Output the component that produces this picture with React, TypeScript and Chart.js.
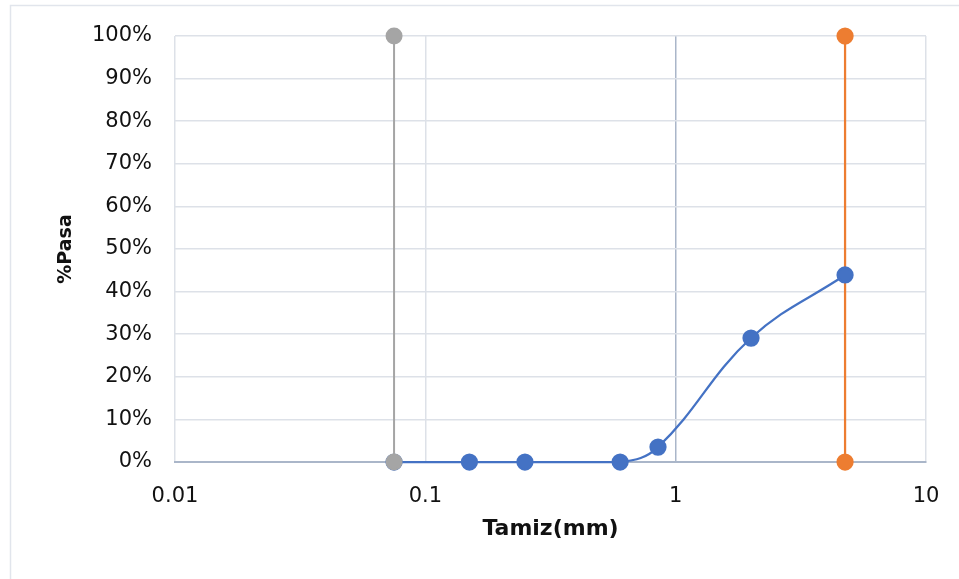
import React, { useEffect, useRef } from "react";
import { Chart, registerables } from "chart.js";

Chart.register(...registerables);

// Data
const sieveSizes = [0.075, 0.15, 0.25, 0.6, 0.85, 2, 4.75];
const percentPassing = [0, 0, 0, 0, 3.5, 29.1, 43.9];
const grayX = [0.075, 0.075];
const grayY = [0, 100];
const orangeX = [4.75, 4.75];
const orangeY = [0, 100];
const xTicks = [0.01, 0.1, 1, 10];
const xTickLabels = ["0.01", "0.1", "1", "10"];
const xTitle = "Tamiz(mm)";
const yTitle = "%Pasa";

const toPoints = (xs: number[], ys: number[]) => xs.map((x, i) => ({ x, y: ys[i] }));

const FONT = "'DejaVu Sans', sans-serif";

const frame = {
  id: "frame",
  beforeDraw(chart: any) {
    const { ctx, width, height } = chart;
    ctx.save();
    ctx.fillStyle = "#ffffff";
    ctx.fillRect(0, 0, width, height);
    ctx.strokeStyle = "#e1e5ec";
    ctx.lineWidth = 1.5;
    ctx.strokeRect(10.5, 5.5, width + 10, height + 10);
    ctx.restore();
  },
};

export default function App() {
  const ref = useRef<HTMLCanvasElement>(null);
  useEffect(() => {
    if (!ref.current) return;
    const chart = new Chart(ref.current, {
      type: "scatter",
      data: {
        datasets: [
          {
            data: toPoints(grayX, grayY),
            showLine: true,
            borderColor: "#A5A5A5",
            backgroundColor: "#A5A5A5",
            borderWidth: 2,
            pointRadius: 7.5,
            pointHoverRadius: 7.5,
            clip: false,
          },
          {
            data: toPoints(sieveSizes, percentPassing),
            showLine: true,
            borderColor: "#4472C4",
            backgroundColor: "#4472C4",
            borderWidth: 2.25,
            pointRadius: 7.5,
            pointHoverRadius: 7.5,
            tension: 0.4,
            clip: false,
          },
          {
            data: toPoints(orangeX, orangeY),
            showLine: true,
            borderColor: "#ED7D31",
            backgroundColor: "#ED7D31",
            borderWidth: 2.25,
            pointRadius: 7.5,
            pointHoverRadius: 7.5,
            clip: false,
          },
        ],
      },
      options: {
        animation: false,
        responsive: false,
        maintainAspectRatio: false,
        layout: { padding: { top: 36, right: 33, left: 0, bottom: 0 } },
        plugins: { legend: { display: false }, tooltip: { enabled: false } },
        scales: {
          x: {
            type: "logarithmic",
            min: 0.01,
            max: 10,
            afterBuildTicks: (scale: any) => {
              scale.ticks = xTicks.map((v) => ({ value: v }));
            },
            afterFit: (scale: any) => {
              scale.height = 117;
              scale.paddingRight = 0;
              scale.paddingLeft = 0;
            },
            ticks: {
              autoSkip: false,
              maxRotation: 0,
              padding: 22,
              color: "#111",
              font: { family: FONT, size: 21 },
              callback: (v: any) => {
                const i = xTicks.indexOf(Number(v));
                return i >= 0 ? xTickLabels[i] : "";
              },
            },
            grid: {
              drawTicks: false,
              color: (c: any) => (c.tick && c.tick.value === 1 ? "#aab6c9" : "#dde1e8"),
              lineWidth: 1.5,
            },
            border: { display: true, color: "#aab6c9", width: 2 },
            title: {
              display: true,
              text: xTitle,
              color: "#111",
              font: { family: FONT, size: 22, weight: "bold" },
              padding: { top: 0, bottom: 37 },
            },
          },
          y: {
            min: 0,
            max: 100,
            afterFit: (scale: any) => {
              scale.width = 175;
              scale.paddingTop = 0;
              scale.paddingBottom = 0;
            },
            ticks: {
              stepSize: 10,
              padding: 23,
              color: "#111",
              font: { family: FONT, size: 21 },
              callback: (v: any) => v + "%",
            },
            grid: { drawTicks: false, color: "#dde1e8", lineWidth: 1.5 },
            border: { display: false },
            title: {
              display: true,
              text: yTitle,
              color: "#111",
              font: { family: FONT, size: 19, weight: "bold" },
              padding: { top: 55, bottom: 0 },
            },
          },
        },
      },
      plugins: [frame],
    } as any);
    return () => chart.destroy();
  }, []);
  return (
    <div style={{ position: "fixed", left: 0, top: 0, width: 959, height: 579, background: "#fff" }}>
      <canvas ref={ref} width={959} height={579} style={{ display: "block" }} />
    </div>
  );
}
